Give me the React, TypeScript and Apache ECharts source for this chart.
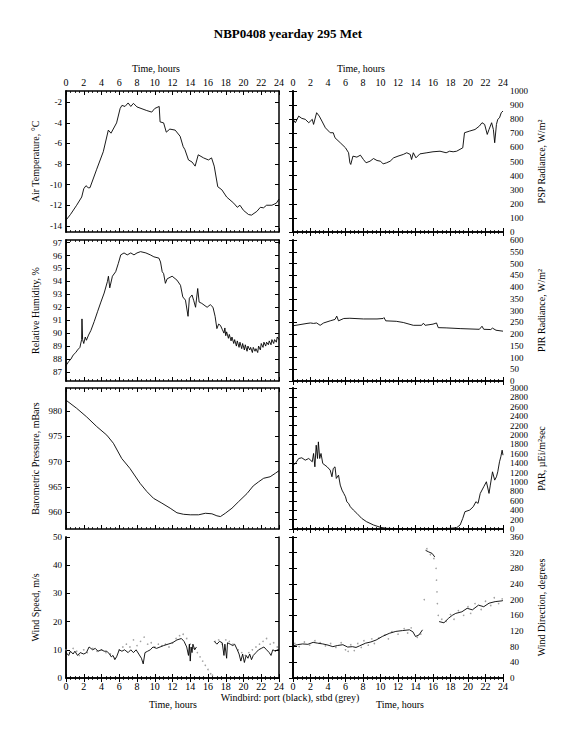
import React, { useEffect, useRef } from "react";
import * as echarts from "echarts";

const FONT = "'Liberation Serif', 'Times New Roman', serif";

const titleText = "NBP0408 yearday 295 Met";
const timeLabel = "Time, hours";
const windbirdLabel = "Windbird: port (black), stbd (grey)";

const tempTicks = [-14, -12, -10, -8, -6, -4, -2];
const rhTicks = [87, 88, 89, 90, 91, 92, 93, 94, 95, 96, 97];
const pressTicks = [960, 965, 970, 975, 980];
const windTicks = [0, 10, 20, 30, 40, 50];
const pspTicks = [0, 100, 200, 300, 400, 500, 600, 700, 800, 900, 1000];
const pirTicks = [0, 50, 100, 150, 200, 250, 300, 350, 400, 450, 500, 550, 600];
const parTicks = [0, 200, 400, 600, 800, 1000, 1200, 1400, 1600, 1800, 2000, 2200, 2400, 2600, 2800, 3000];
const dirTicks = [0, 40, 80, 120, 160, 200, 240, 280, 320, 360];

const airTemp = [
  [0, -13.45], [0.5, -12.9], [1.2, -12.0], [1.77, -11.2], [2.0, -10.4], [2.25, -10.1], [2.5, -10.3], [2.7, -10.3],
  [3.46, -8.5], [4.2, -6.8], [4.77, -4.7], [5.07, -5.0], [5.7, -4.0], [6.1, -2.6], [6.3, -2.3], [6.65, -2.4],
  [7.0, -2.06], [7.3, -2.4], [7.6, -2.1], [8.0, -2.45], [9.1, -2.8], [9.66, -2.95], [10.0, -2.6], [10.5, -2.4],
  [10.6, -3.9], [11.0, -4.0], [11.3, -4.9], [11.7, -4.6], [12.3, -4.7], [12.86, -5.3], [13.2, -6.3], [13.4, -6.6],
  [13.8, -7.6], [14.2, -7.8], [14.55, -8.2], [14.9, -7.1], [15.5, -7.4], [16.05, -7.6], [16.4, -7.4], [16.7, -8.2],
  [17.1, -10.2], [17.56, -10.5], [18.1, -11.2], [18.9, -11.8], [19.3, -12.2], [19.6, -12.0], [20.0, -12.5],
  [20.56, -12.9], [20.9, -12.96], [21.5, -12.6], [21.9, -12.2], [22.25, -12.25], [22.6, -12.0], [23.2, -12.0],
  [23.7, -11.8], [24.0, -11.4]
];

const pspRad = [
  [0, 799], [0.27, 775], [0.65, 822], [1.0, 806], [1.4, 799], [1.8, 775], [2.2, 799], [2.35, 763], [2.7, 846],
  [3.0, 822], [3.3, 787], [3.7, 739], [4.25, 704], [4.6, 704], [4.8, 668], [5.4, 633], [6.0, 597], [6.35, 562],
  [6.5, 491], [6.6, 479], [6.85, 538], [7.3, 531], [7.7, 545], [8.05, 514], [8.35, 491], [8.8, 502], [9.2, 521],
  [9.6, 507], [10.0, 502], [10.3, 483], [10.7, 491], [11.1, 502], [11.5, 526], [12.0, 538], [12.6, 550], [13.0, 562],
  [13.4, 550], [13.55, 514], [13.75, 562], [14.05, 526], [14.5, 554], [15.3, 562], [16.0, 569], [16.8, 573],
  [17.5, 562], [17.9, 573], [18.3, 569], [18.7, 573], [19.4, 597], [19.6, 704], [20.2, 716], [20.8, 727],
  [21.3, 751], [21.6, 775], [21.9, 763], [22.2, 692], [22.4, 727], [22.7, 775], [22.9, 727], [23.05, 633],
  [23.25, 763], [23.4, 799], [23.6, 810], [23.8, 846], [24.0, 858]
];

const relHum = [
  [0, 87.5], [0.3, 87.8], [0.56, 88.0], [0.8, 88.3], [1.1, 88.5], [1.3, 88.7], [1.57, 88.9], [1.76, 89.5],
  [1.8, 91.1], [1.87, 89.5], [2.0, 89.2], [2.17, 89.7], [2.3, 89.45], [2.54, 89.85], [2.8, 90.2], [3.18, 90.9],
  [3.55, 91.65], [3.93, 92.4], [4.3, 93.1], [4.67, 94.0], [4.78, 94.4], [4.93, 93.5], [5.23, 94.4], [5.6, 94.75],
  [5.9, 95.4], [6.17, 96.05], [6.54, 96.2], [6.9, 96.05], [7.3, 96.2], [7.66, 96.05], [8.0, 96.2], [8.4, 96.3],
  [9.0, 96.2], [9.5, 96.05], [9.9, 95.9], [10.47, 95.8], [10.65, 95.5], [10.84, 94.75], [11.0, 94.6], [11.2, 93.85],
  [11.4, 94.2], [11.96, 94.4], [12.5, 94.1], [12.9, 93.7], [13.16, 92.8], [13.46, 92.55], [13.75, 91.3],
  [13.9, 92.7], [14.2, 92.95], [14.4, 92.5], [14.6, 92.0], [14.84, 93.45], [15.0, 92.4], [15.3, 92.3], [15.9, 92.0],
  [16.26, 92.2], [16.56, 92.0], [16.8, 91.3], [17.0, 90.35], [17.2, 90.7], [17.4, 90.6], [17.6, 90.3],
  [17.8, 90.0], [17.9, 90.4], [18.0, 89.8], [18.1, 90.1], [18.3, 89.6], [18.4, 89.9], [18.6, 89.4], [18.7, 89.7],
  [18.9, 89.2], [19.0, 89.5], [19.2, 89.0], [19.3, 89.4], [19.5, 88.9], [19.6, 89.3], [19.8, 88.8], [19.9, 89.2],
  [20.1, 88.7], [20.2, 89.1], [20.4, 88.6], [20.5, 89.0], [20.7, 88.7], [20.8, 88.9], [21.0, 88.5], [21.1, 88.9],
  [21.3, 88.6], [21.4, 88.8], [21.6, 88.5], [21.7, 89.0], [21.9, 88.7], [22.0, 89.2], [22.2, 88.9], [22.3, 89.3],
  [22.5, 89.0], [22.6, 89.3], [22.8, 89.1], [22.9, 89.4], [23.1, 89.1], [23.2, 89.5], [23.4, 89.2], [23.5, 89.5],
  [23.7, 89.3], [23.8, 89.7], [24.0, 89.5]
];

const pirRad = [
  [0, 235], [0.8, 240], [1.6, 245], [2.0, 247], [2.35, 245], [2.7, 247], [3.1, 237], [3.5, 247], [4.25, 256],
  [4.8, 262], [5.0, 276], [5.2, 256], [5.8, 266], [6.5, 267], [8.05, 264], [9.6, 264], [10.3, 266], [10.4, 270],
  [10.6, 256], [11.8, 254], [12.6, 249], [13.75, 237], [14.7, 237], [14.9, 246], [15.1, 237], [16.0, 242],
  [16.4, 247], [16.6, 227], [17.5, 226], [19.1, 223], [21.3, 220], [21.6, 233], [21.8, 220], [22.6, 219],
  [22.8, 225], [23.2, 216], [24.0, 212]
];

const baroPress = [
  [0, 982.1], [1.2, 980.5], [2.33, 978.8], [3.46, 976.9], [4.6, 975.2], [5.34, 973.6], [6.28, 970.6],
  [7.2, 968.65], [8.35, 965.7], [9.1, 964.1], [9.86, 962.75], [10.8, 961.8], [11.74, 960.8], [12.5, 959.9],
  [13.24, 959.6], [14.0, 959.5], [14.94, 959.5], [15.7, 959.8], [16.44, 959.7], [17.0, 959.3], [17.4, 959.15],
  [17.95, 959.8], [18.7, 960.8], [19.45, 962.1], [20.4, 963.7], [21.1, 965.2], [21.7, 966.0], [22.27, 966.7],
  [23.0, 967.0], [23.6, 967.7], [24.0, 968.2]
];

const parVals = [
  [0, 1359], [0.27, 1394], [0.65, 1500], [1.0, 1515], [1.4, 1465], [1.8, 1500], [2.2, 1430], [2.35, 1607],
  [2.5, 1323], [2.65, 1783], [2.8, 1500], [2.9, 1854], [3.05, 1500], [3.2, 1607], [3.4, 1394], [3.9, 1323],
  [4.25, 1253], [4.45, 1111], [4.6, 1288], [4.8, 1323], [4.95, 1076], [5.2, 1146], [5.4, 934], [5.6, 828],
  [5.8, 757], [6.0, 686], [6.15, 580], [6.35, 545], [6.55, 474], [6.9, 403], [7.3, 333], [7.85, 226], [8.4, 156],
  [9.2, 85], [10.0, 35], [10.7, 14], [11.85, 7], [13.75, 7], [16.8, 7], [17.9, 14], [18.7, 28], [19.1, 85],
  [19.4, 226], [19.65, 368], [20.2, 403], [20.6, 474], [20.9, 580], [21.15, 545], [21.4, 757], [21.8, 899],
  [22.1, 1005], [22.4, 757], [22.55, 934], [22.8, 1217], [23.05, 1040], [23.25, 1111], [23.4, 1217], [23.6, 1430],
  [23.75, 1536], [23.9, 1677], [24.0, 1571]
];

const windPort = [
  [0, 9], [0.3, 8], [0.5, 9.5], [0.8, 8.5], [1.0, 9.5], [1.3, 8], [1.6, 9], [2.0, 8.5], [2.3, 9], [2.6, 11],
  [2.8, 10.5], [3.0, 10], [3.3, 10.5], [3.6, 9.5], [4.0, 10], [4.3, 9.5], [4.6, 9.5], [4.9, 8.5], [5.1, 7.5],
  [5.3, 8], [5.5, 6.5], [5.7, 7.5], [6.0, 10], [6.3, 9.5], [6.6, 10], [7.0, 9], [7.3, 10], [7.6, 9], [7.9, 10],
  [8.2, 8.5], [8.5, 7], [8.7, 5], [8.9, 9], [9.2, 9.5], [9.5, 10], [9.8, 11], [10.2, 10.5], [10.6, 11], [11.0, 11.5],
  [11.5, 12], [12.0, 12.5], [12.5, 13.5], [13.0, 14], [13.3, 13], [13.6, 11], [13.8, 8], [13.9, 12], [14.0, 6],
  [14.1, 11], [14.2, 9], [14.3, 12], [14.5, 10], [14.7, 11], [14.75, null], [16.65, null], [16.7, 13], [17.0, 12],
  [17.3, 13], [17.6, 12.5], [17.8, 8], [17.9, 12], [18.1, 7], [18.2, 12.5], [18.5, 12], [18.8, 11.5], [19.0, 12],
  [19.3, 10], [19.5, 8.5], [19.7, 6], [19.9, 8.5], [20.1, 5.5], [20.3, 8], [20.5, 7], [20.7, 8.5], [20.9, 6.5],
  [21.1, 8], [21.4, 9], [21.7, 10], [22.0, 10.5], [22.3, 11], [22.6, 10], [22.9, 9], [23.1, 8], [23.3, 10],
  [23.6, 9.5], [23.8, 10], [24.0, 10]
];

const windStbd = [
  [0, 10], [0.4, 9], [0.8, 10.5], [1.2, 9.5], [1.5, 8], [2.0, 10], [2.4, 9], [3.0, 10.5], [3.5, 9.5], [4.0, 10],
  [4.5, 9], [5.0, 8.5], [5.5, 7], [6.0, 10], [6.4, 11], [6.8, 12], [7.2, 11], [7.6, 13.5], [8.0, 11.5], [8.4, 13],
  [8.8, 14.5], [9.2, 12], [9.6, 12.5], [10.0, 11], [10.4, 12], [10.8, 11.5], [11.2, 12], [11.6, 11], [12.0, 12.5],
  [12.4, 14], [12.8, 15], [13.2, 15.5], [13.6, 14], [14.0, 12], [14.4, 10.5], [14.8, 9], [15.1, 7.5], [15.4, 6],
  [15.7, 4.5], [16.0, 3], [16.3, 1.5], [16.5, 1], [16.8, 13], [17.2, 13.5], [17.6, 12], [18.0, 13.5], [18.4, 13],
  [18.8, 12], [19.4, 10], [19.8, 9], [20.2, 8], [20.6, 9], [21.0, 10], [21.4, 11], [21.8, 12], [22.2, 13],
  [22.6, 14], [23.0, 12], [23.4, 12.5], [23.8, 11]
];

const dirPort = [
  [0, 82], [0.5, 85], [1.1, 87], [1.7, 86], [2.3, 91], [2.8, 89], [3.4, 87], [4.0, 84], [4.55, 80], [5.1, 83],
  [5.7, 85], [6.25, 79], [6.8, 80], [7.2, 78], [7.6, 82], [8.3, 89], [8.9, 92], [9.5, 97], [10.2, 106], [11.0, 114],
  [11.75, 119], [12.5, 121], [13.3, 123], [13.7, 118], [14.0, 106], [14.4, 110], [14.8, 123], [14.9, null],
  [15.1, null], [15.15, 326], [15.5, 322], [15.9, 318], [16.2, 309], [16.25, null], [16.65, null], [16.7, 144],
  [17.25, 141], [17.8, 153], [18.2, 160], [18.6, 165], [19.3, 169], [19.9, 178], [20.5, 174], [21.2, 186],
  [21.8, 182], [22.4, 191], [23.1, 195], [23.9, 197], [24.0, 198]
];

const dirStbd = [
  [0.2, 88], [0.7, 80], [1.3, 92], [1.9, 84], [2.5, 95], [3.1, 90], [3.7, 82], [4.3, 88], [4.9, 78], [5.5, 90],
  [6.0, 72], [6.3, 68], [6.6, 85], [7.0, 70], [7.4, 88], [7.8, 78], [8.1, 95], [8.6, 84], [9.0, 100], [9.3, 88],
  [9.8, 102], [10.5, 110], [10.9, 100], [11.3, 118], [12.0, 112], [12.7, 126], [13.1, 115], [13.5, 128],
  [14.2, 104], [14.6, 112], [15.0, 200], [15.3, 330], [15.7, 315], [16.1, 305], [16.35, 280], [16.4, 250],
  [16.45, 220], [16.5, 190], [16.6, 160], [17.0, 150], [17.5, 145], [18.0, 162], [18.4, 150], [18.9, 172],
  [19.5, 160], [20.0, 182], [20.3, 165], [20.8, 190], [21.5, 175], [22.0, 196], [22.6, 185], [23.0, 205],
  [23.5, 190], [23.9, 202]
];

const panels = [
  { col: 0, row: 0, name: "Air Temperature, °C", min: -14.6, max: -0.9, ticks: tempTicks, lines: [airTemp], dots: [] },
  { col: 1, row: 0, name: "PSP Radiance, W/m²", min: 0, max: 1000, ticks: pspTicks, lines: [pspRad], dots: [] },
  { col: 0, row: 1, name: "Relative Humidity, %", min: 86.3, max: 97.2, ticks: rhTicks, lines: [relHum], dots: [] },
  { col: 1, row: 1, name: "PIR Radiance, W/m²", min: 0, max: 600, ticks: pirTicks, lines: [pirRad], dots: [] },
  { col: 0, row: 2, name: "Barometric Pressure, mBars", min: 956.7, max: 984.5, ticks: pressTicks, lines: [baroPress], dots: [] },
  { col: 1, row: 2, name: "PAR, µEi/m²sec", min: 0, max: 3000, ticks: parTicks, lines: [parVals], dots: [] },
  { col: 0, row: 3, name: "Wind Speed, m/s", min: 0, max: 50, ticks: windTicks, lines: [windPort], dots: [windStbd] },
  { col: 1, row: 3, name: "Wind Direction, degrees", min: 0, max: 360, ticks: dirTicks, lines: [dirPort], dots: [dirStbd] },
];

const hourTicks = [0, 2, 4, 6, 8, 10, 12, 14, 16, 18, 20, 22, 24];

function buildOption() {
  const lefts = [66, 293];
  const widths = [213, 210];
  const tops = [91, 240, 388, 537];
  const grid: any[] = [];
  const xAxis: any[] = [];
  const yAxis: any[] = [];
  const series: any[] = [];
  const lineCfg = { show: true, lineStyle: { color: "#000", width: 1.5 } };
  const label = {
    color: "#000", fontSize: 10, fontFamily: FONT,
    showMinLabel: true, showMaxLabel: true, hideOverlap: false,
    formatter: (v: number) => String(v),
  };
  panels.forEach((p, i) => {
    grid.push({ left: lefts[p.col], width: widths[p.col], top: tops[p.row], height: 141 });
    const xIdx = xAxis.length;
    ["bottom", "top"].forEach((pos) => {
      const showLab = (pos === "top" && p.row === 0) || (pos === "bottom" && p.row === 3);
      xAxis.push({
        type: "value", gridIndex: i, position: pos, min: 0, max: 24, interval: 2,
        axisLine: lineCfg,
        axisTick: { show: true, inside: true, length: 4, lineStyle: { color: "#000", width: 1 } },
        minorTick: { show: true, splitNumber: 4, length: 2, lineStyle: { color: "#000", width: 0.8 } },
        axisLabel: { show: showLab, margin: pos === "top" ? 4 : 3, ...label, customValues: hourTicks },
        splitLine: { show: false },
      });
    });
    const labPos = p.col === 0 ? "left" : "right";
    const otherPos = p.col === 0 ? "right" : "left";
    const evenTicks = p.ticks.filter((_, k) => k % 2 === 0);
    const oddTicks = p.ticks.filter((_, k) => k % 2 === 1);
    const yIdx = yAxis.length;
    const yLabel = {
      ...label, fontSize: 9, margin: labPos === "left" ? 4 : 7,
      align: labPos === "left" ? "right" : "left",
    };
    const baseY = (pos: string) => ({
      type: "value", gridIndex: i, position: pos, min: p.min, max: p.max,
      axisLine: lineCfg,
      axisTick: { show: true, inside: true, length: 4, customValues: p.ticks, lineStyle: { color: "#000", width: 1 } },
      splitLine: { show: false },
    });
    // labelled axis (even-index labels) carrying the axis name
    yAxis.push({
      ...baseY(labPos),
      axisLabel: { show: true, ...yLabel, customValues: evenTicks },
      name: p.name,
      nameLocation: "middle",
      nameRotate: 90,
      nameGap: labPos === "left" ? 26 : 33,
      nameTextStyle: { color: "#000", fontSize: 10, fontFamily: FONT },
    });
    // companion axis on the same side with the odd-index labels
    yAxis.push({
      ...baseY(labPos),
      axisLabel: { show: oddTicks.length > 0, ...yLabel, customValues: oddTicks.length ? oddTicks : evenTicks },
    });
    // mirrored axis on the opposite side (ticks only)
    yAxis.push({ ...baseY(otherPos), axisLabel: { show: false } });
    p.lines.forEach((d) => {
      series.push({
        type: "line", xAxisIndex: xIdx, yAxisIndex: yIdx, data: d, showSymbol: false,
        connectNulls: false,
        lineStyle: { color: "#000", width: 0.9 }, silent: true,
      });
    });
    p.dots.forEach((d) => {
      series.push({
        type: "scatter", xAxisIndex: xIdx, yAxisIndex: yIdx, data: d, symbolSize: 1.6,
        itemStyle: { color: "#8a8a8a" }, silent: true,
      });
    });
  });
  const txt = (x: number, y: number, text: string, size: number, bold = false) => ({
    type: "text", x, y,
    style: { text, fill: "#000", font: `${bold ? "bold " : ""}${size}px ${FONT}`, textAlign: "center", textVerticalAlign: "middle" },
  });
  return {
    animation: false,
    backgroundColor: "#fff",
    grid, xAxis, yAxis, series,
    graphic: [
      txt(288, 33, titleText, 13, true),
      txt(156, 68, timeLabel, 10),
      txt(361, 68, timeLabel, 10),
      txt(173, 704, timeLabel, 10),
      txt(400, 704, timeLabel, 10),
      txt(290, 697, windbirdLabel, 10),
    ],
  };
}

export default function App() {
  const ref = useRef<HTMLDivElement>(null);
  useEffect(() => {
    if (!ref.current) return;
    const chart = echarts.init(ref.current, null, { renderer: "svg" });
    chart.setOption(buildOption() as any);
    return () => chart.dispose();
  }, []);
  return <div ref={ref} style={{ position: "fixed", left: 0, top: 0, width: 576, height: 753, background: "#fff" }} />;
}
